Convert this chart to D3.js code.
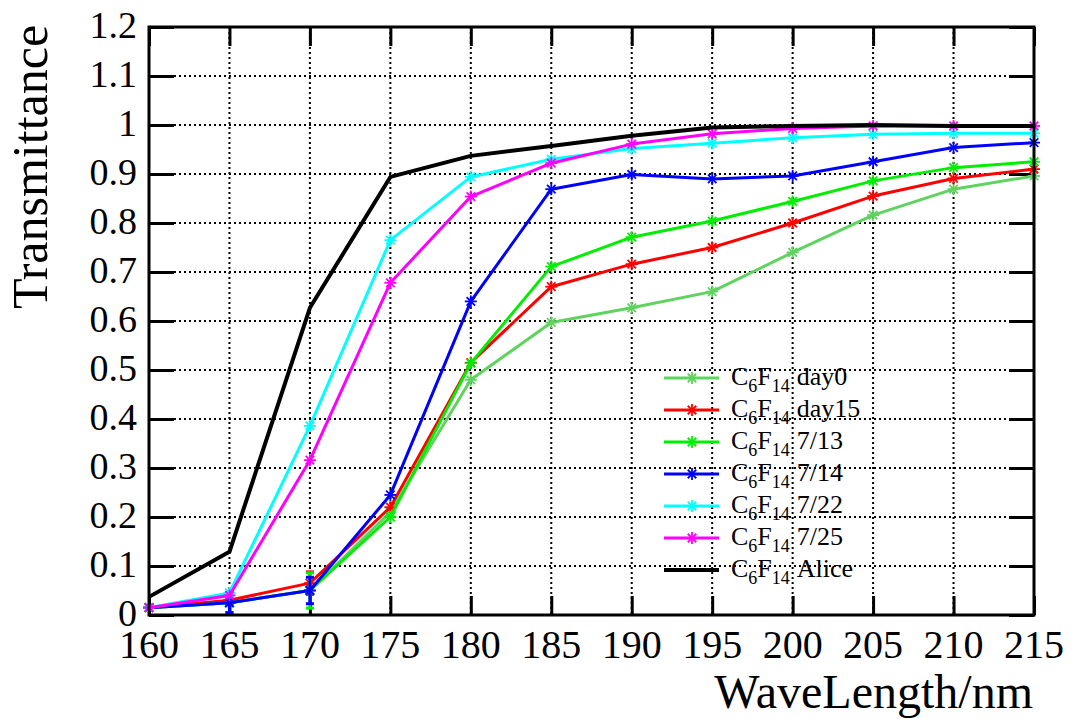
<!DOCTYPE html>
<html>
<head>
<meta charset="utf-8">
<script src="https://cdn.jsdelivr.net/npm/d3@7"></script>
<style>
  body { margin: 0; background: #fff; }
  text { font-family: "Liberation Serif", "DejaVu Serif", serif; }
</style>
</head>
<body>
<svg id="chart" width="1073" height="719"></svg>
<script>
// wavelength points (nm)
const wavelengths = [160, 165, 170, 175, 180, 185, 190, 195, 200, 205, 210, 215];

// transmittance per sample
const day0  = [0.015, 0.025, 0.05, 0.21, 0.48, 0.597, 0.627, 0.66, 0.74, 0.816, 0.869, 0.896];
const day15 = [0.015, 0.03, 0.065, 0.22, 0.515, 0.67, 0.716, 0.75, 0.80, 0.855, 0.891, 0.91];
const jul13 = [0.015, 0.025, 0.05, 0.20, 0.514, 0.711, 0.771, 0.804, 0.844, 0.886, 0.913, 0.925];
const jul14 = [0.015, 0.025, 0.05, 0.245, 0.64, 0.869, 0.899, 0.89, 0.896, 0.925, 0.954, 0.964];
const jul22 = [0.015, 0.045, 0.386, 0.765, 0.894, 0.93, 0.952, 0.963, 0.974, 0.981, 0.983, 0.983];
const jul25 = [0.015, 0.04, 0.316, 0.678, 0.854, 0.922, 0.961, 0.982, 0.993, 0.998, 0.998, 0.998];
const alice = [0.037, 0.129, 0.627, 0.894, 0.937, 0.957, 0.978, 0.995, 0.998, 1.0, 0.998, 0.998];

// error bars (only visible at the low wavelengths)
const day15Err = [0, 0.005, 0.023, 0, 0, 0, 0, 0, 0, 0, 0, 0];
const jul13Err = [0, 0.02, 0.036, 0, 0, 0, 0, 0, 0, 0, 0, 0];
const jul14Err = [0, 0.02, 0.027, 0, 0, 0, 0, 0, 0, 0, 0, 0];

const xTicks = [160, 165, 170, 175, 180, 185, 190, 195, 200, 205, 210, 215];
const yTicks = [0, 0.1, 0.2, 0.3, 0.4, 0.5, 0.6, 0.7, 0.8, 0.9, 1, 1.1, 1.2];

const series = [
  {label: "day0",  values: day0,  err: null,     color: "#5fd35f", marker: true},
  {label: "day15", values: day15, err: day15Err, color: "#ff0000", marker: true},
  {label: "7/13",  values: jul13, err: jul13Err, color: "#00ee00", marker: true},
  {label: "7/14",  values: jul14, err: jul14Err, color: "#0000ff", marker: true},
  {label: "7/22",  values: jul22, err: null,     color: "#00ffff", marker: true},
  {label: "7/25",  values: jul25, err: null,     color: "#ff00ff", marker: true},
  {label: "Alice", values: alice, err: null,     color: "#000000", marker: false}
];

const LEFT = 149, RIGHT = 1034, TOP = 27, BOTTOM = 615;
const FONT = "Liberation Serif, DejaVu Serif, serif";

const svg = d3.select("#chart");
const xScale = d3.scaleLinear().domain([160, 215]).range([LEFT, RIGHT]);
const yScale = d3.scaleLinear().domain([0, 1.2]).range([BOTTOM, TOP]);

// dotted grid
const grid = svg.append("g");
grid.selectAll(".gx")
  .data(xTicks.slice(1, -1))
  .join("line")
  .attr("x1", d => xScale(d)).attr("x2", d => xScale(d))
  .attr("y1", TOP).attr("y2", BOTTOM)
  .attr("stroke", "#000").attr("stroke-width", 2)
  .attr("stroke-dasharray", "2,3");
grid.selectAll(".gy")
  .data(yTicks.slice(1, -1))
  .join("line")
  .attr("x1", LEFT).attr("x2", RIGHT)
  .attr("y1", d => yScale(d)).attr("y2", d => yScale(d))
  .attr("stroke", "#000").attr("stroke-width", 2)
  .attr("stroke-dasharray", "2,3");

// axes: inward ticks on all four sides
const axisStyle = g => {
  g.select(".domain").remove();
  g.selectAll(".tick line").attr("stroke", "#000").attr("stroke-width", 3);
  g.selectAll(".tick text").remove();
};
svg.append("g").attr("transform", `translate(0,${BOTTOM})`)
  .call(d3.axisTop(xScale).tickValues(xTicks).tickSize(19)).call(axisStyle);
svg.append("g").attr("transform", `translate(0,${TOP})`)
  .call(d3.axisBottom(xScale).tickValues(xTicks).tickSize(19)).call(axisStyle);
svg.append("g").attr("transform", `translate(${LEFT},0)`)
  .call(d3.axisRight(yScale).tickValues(yTicks).tickSize(25)).call(axisStyle);
svg.append("g").attr("transform", `translate(${RIGHT},0)`)
  .call(d3.axisLeft(yScale).tickValues(yTicks).tickSize(25)).call(axisStyle);

// tick labels
svg.append("g").selectAll("text")
  .data(xTicks)
  .join("text")
  .attr("x", d => xScale(d))
  .attr("y", 658)
  .attr("text-anchor", "middle")
  .attr("font-family", FONT)
  .attr("font-size", 40)
  .text(d => d);
svg.append("g").selectAll("text")
  .data(yTicks)
  .join("text")
  .attr("x", 137)
  .attr("y", d => yScale(d) + 11)
  .attr("text-anchor", "end")
  .attr("font-family", FONT)
  .attr("font-size", 38)
  .text(d => d3.format("")(+d.toFixed(1)));

// axis titles
svg.append("text")
  .attr("transform", "translate(47,167) rotate(-90)")
  .attr("text-anchor", "middle")
  .attr("font-family", FONT)
  .attr("font-size", 50)
  .text("Transmittance");
svg.append("text")
  .attr("x", 1033).attr("y", 708)
  .attr("text-anchor", "end")
  .attr("font-family", FONT)
  .attr("font-size", 48)
  .text("WaveLength/nm");

// asterisk marker
const star = (g, cx, cy, color, r) => {
  [0, 45, 90, 135].forEach(a => {
    const rad = a * Math.PI / 180;
    g.append("line")
      .attr("x1", cx - r * Math.cos(rad)).attr("y1", cy - r * Math.sin(rad))
      .attr("x2", cx + r * Math.cos(rad)).attr("y2", cy + r * Math.sin(rad))
      .attr("stroke", color).attr("stroke-width", 1.8);
  });
};

const line = d3.line()
  .x((d, i) => xScale(wavelengths[i]))
  .y(d => yScale(d));

const plot = svg.append("g");
series.forEach(s => {
  const g = plot.append("g");
  g.append("path")
    .attr("d", line(s.values))
    .attr("fill", "none")
    .attr("stroke", s.color)
    .attr("stroke-width", s.marker ? 3 : 4)
    .attr("stroke-linejoin", "round");
  if (s.err) {
    s.values.forEach((v, i) => {
      const e = s.err[i];
      if (!e) return;
      const cx = xScale(wavelengths[i]);
      g.append("line")
        .attr("x1", cx).attr("x2", cx)
        .attr("y1", yScale(v - e)).attr("y2", yScale(v + e))
        .attr("stroke", s.color).attr("stroke-width", 3);
      [v - e, v + e].forEach(ev => {
        g.append("line")
          .attr("x1", cx - 4).attr("x2", cx + 4)
          .attr("y1", yScale(ev)).attr("y2", yScale(ev))
          .attr("stroke", s.color).attr("stroke-width", 3);
      });
    });
  }
  if (s.marker) {
    s.values.forEach((v, i) => star(g, xScale(wavelengths[i]), yScale(v), s.color, 6));
  }
});

// legend
const legend = svg.append("g");
series.forEach((s, i) => {
  const cy = 378 + i * 32;
  legend.append("line")
    .attr("x1", 664).attr("x2", 719)
    .attr("y1", cy).attr("y2", cy)
    .attr("stroke", s.color)
    .attr("stroke-width", s.marker ? 3 : 4);
  if (s.marker) star(legend, 692, cy, s.color, 6);
  const t = legend.append("text")
    .attr("x", 731).attr("y", cy + 7)
    .attr("font-family", FONT)
    .attr("font-size", 26);
  t.append("tspan").text("C");
  t.append("tspan").attr("font-size", 18).attr("dy", 7).text("6");
  t.append("tspan").attr("dy", -7).text("F");
  t.append("tspan").attr("font-size", 18).attr("dy", 7).text("14");
  t.append("tspan").attr("dy", -7).attr("dx", 7).text(s.label);
});

// frame
svg.append("rect")
  .attr("x", LEFT).attr("y", TOP)
  .attr("width", RIGHT - LEFT).attr("height", BOTTOM - TOP)
  .attr("fill", "none")
  .attr("stroke", "#000").attr("stroke-width", 3);
</script>
</body>
</html>
